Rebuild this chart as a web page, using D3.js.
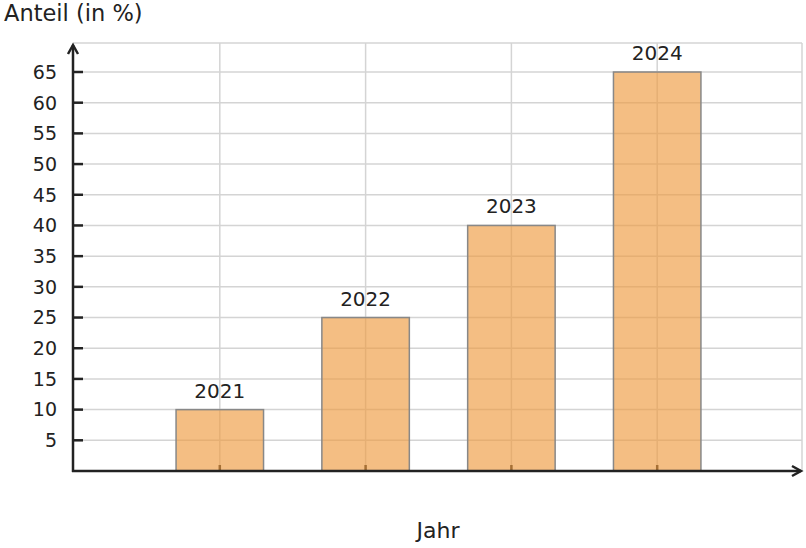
<!DOCTYPE html>
<html>
<head>
<meta charset="utf-8">
<script src="https://cdn.jsdelivr.net/npm/d3@7"></script>
<style>
  body { margin: 0; background: #fff; }
  text { font-family: "DejaVu Sans", sans-serif; fill: #222; }
</style>
</head>
<body>
<div id="chart"></div>
<script>
// data
var years = [2021, 2022, 2023, 2024];
var shares = [10, 25, 40, 65];
var yTicks = [5, 10, 15, 20, 25, 30, 35, 40, 45, 50, 55, 60, 65];

var W = 806, H = 548;
var plotL = 73, plotR = 802, plotT = 43, plotB = 471;

var svg = d3.select('#chart').append('svg')
  .attr('width', W)
  .attr('height', H);

var x = d3.scaleLinear().domain([2020, 2025]).range([plotL + 1, plotR + 1]);
var y = d3.scaleLinear().domain([0, 65]).range([plotB, 72]);
var barW = (x(2021) - x(2020)) * 0.6;

// grid
var grid = svg.append('g').attr('stroke', '#d4d4d4').attr('stroke-width', 1.5);
grid.selectAll('line.h').data(yTicks).enter().append('line')
  .attr('x1', plotL).attr('x2', plotR)
  .attr('y1', function(d) { return y(d); })
  .attr('y2', function(d) { return y(d); });
grid.selectAll('line.v').data(years).enter().append('line')
  .attr('y1', plotT).attr('y2', plotB)
  .attr('x1', function(d) { return x(d); })
  .attr('x2', function(d) { return x(d); });
grid.append('line').attr('x1', plotL).attr('x2', plotR).attr('y1', plotT).attr('y2', plotT);
grid.append('line').attr('x1', plotR).attr('x2', plotR).attr('y1', plotT).attr('y2', plotB);

// ticks (under the bars)
var ticks = svg.append('g').attr('stroke', '#222').attr('stroke-width', 2.5);
ticks.selectAll('line.y').data(yTicks).enter().append('line')
  .attr('x1', plotL).attr('x2', plotL + 10)
  .attr('y1', function(d) { return y(d); })
  .attr('y2', function(d) { return y(d); });
ticks.selectAll('line.x').data(years).enter().append('line')
  .attr('y1', plotB).attr('y2', plotB - 6)
  .attr('x1', function(d) { return x(d); })
  .attr('x2', function(d) { return x(d); });

// bars
svg.selectAll('rect.bar').data(shares).enter().append('rect')
  .attr('class', 'bar')
  .attr('x', function(d, i) { return x(years[i]) - barW / 2; })
  .attr('y', function(d) { return y(d); })
  .attr('width', barW)
  .attr('height', function(d) { return plotB - y(d); })
  .attr('fill', '#ee9b40')
  .attr('fill-opacity', 0.65)
  .attr('stroke', '#888')
  .attr('stroke-width', 1.5);

svg.selectAll('text.bl').data(shares).enter().append('text')
  .attr('x', function(d, i) { return x(years[i]); })
  .attr('y', function(d) { return y(d) - 12; })
  .attr('text-anchor', 'middle')
  .style('font-size', '20px')
  .text(function(d, i) { return years[i]; });

// y tick labels
svg.selectAll('text.yl').data(yTicks).enter().append('text')
  .attr('x', 57)
  .attr('y', function(d) { return y(d); })
  .attr('dy', '0.36em')
  .attr('text-anchor', 'end')
  .style('font-size', '19px')
  .text(function(d) { return d; });

// axes with arrows
var ax = svg.append('g').attr('stroke', '#222').attr('stroke-width', 2.5).attr('fill', 'none');
ax.append('line').attr('x1', plotL).attr('x2', plotL).attr('y1', plotB + 1).attr('y2', plotT + 2);
ax.append('path').attr('d', 'M' + (plotL - 5) + ',' + (plotT + 11) + 'L' + plotL + ',' + (plotT + 2) + 'L' + (plotL + 5) + ',' + (plotT + 11));
ax.append('line').attr('x1', plotL - 1).attr('x2', plotR - 1).attr('y1', plotB).attr('y2', plotB);
ax.append('path').attr('d', 'M' + (plotR - 10) + ',' + (plotB - 5) + 'L' + (plotR - 1) + ',' + plotB + 'L' + (plotR - 10) + ',' + (plotB + 5));

// axis titles
svg.append('text').attr('x', 4).attr('y', 21).style('font-size', '22.5px').text('Anteil (in %)');
svg.append('text').attr('x', 438).attr('y', 538).attr('text-anchor', 'middle').style('font-size', '22px').text('Jahr');
</script>
</body>
</html>
